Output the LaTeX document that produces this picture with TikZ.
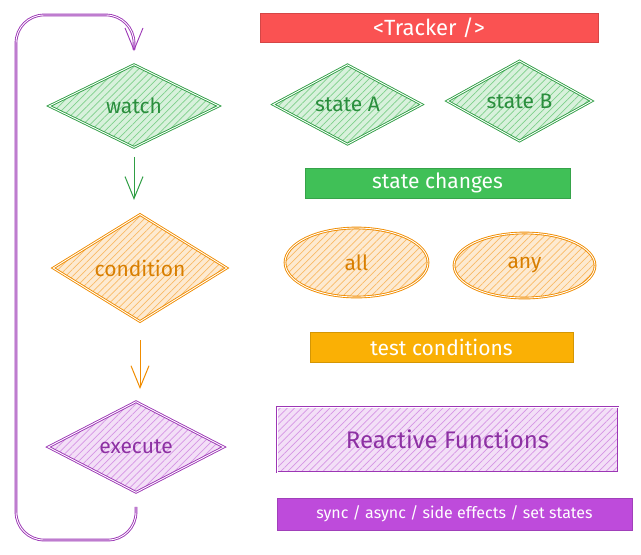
\documentclass[tikz,border=0pt]{standalone}
\usepackage{fontspec}
\setmainfont{Fira Sans}
\usetikzlibrary{shapes.geometric,arrows.meta,patterns.meta}

\definecolor{grn}{HTML}{2F9E44}
\definecolor{grnlight}{HTML}{B2F2BB}
\definecolor{grnbar}{HTML}{40C057}
\definecolor{org}{HTML}{F08C00}
\definecolor{orglight}{HTML}{FFD8A8}
\definecolor{orgbar}{HTML}{FAB005}
\definecolor{prp}{HTML}{9C36B5}
\definecolor{prplight}{HTML}{EEBEFA}
\definecolor{prpbar}{HTML}{BE4BDB}
\definecolor{redbar}{HTML}{FA5252}

\begin{document}
\begin{tikzpicture}[x=0.5pt,y=-0.5pt,
		sketch/.style={line width=0.45pt,double=white,double distance=0.45pt},
		hatch/.style={preaction={fill=#1!30},pattern={Lines[angle=45,distance=2.5pt,line width=0.35pt]},pattern color=#1},
		main node/.style={diamond,draw=#1,sketch,inner sep=0pt,text=#1!90!black,font=\fontsize{10.5}{12}\selectfont},
		state node/.style={diamond,draw=#1,sketch,inner sep=0pt,text=#1!90!black,font=\fontsize{10.5}{12}\selectfont},
		test node/.style={ellipse,draw=#1,sketch,inner sep=0pt,text=#1!90!black,font=\fontsize{10.5}{12}\selectfont},
		bar node/.style={rectangle,draw=#1!85!black,line width=0.4pt,fill=#1,text=white,inner sep=0pt,font=\fontsize{10.5}{12}\selectfont},
		flow/.style={draw=#1,line width=0.5pt,-{Straight Barb[length=11pt,width=9pt]}}]

		\useasboundingbox (0,0) rectangle (641,554);

		\node[main node=grn, hatch=grnlight!60!grn, minimum width=85pt, minimum height=41.5pt] (watch) at (134,106) {watch};
		\node[main node=org, hatch=orglight!60!org, minimum width=87pt, minimum height=43.5pt] (condition) at (140,268) {condition};
		\node[main node=prp, hatch=prplight!70!prp, minimum width=88pt, minimum height=45.5pt] (execute) at (136,447) {execute};

		\node[bar node=redbar, minimum width=169pt, minimum height=14.5pt, font=\fontsize{11}{12}\selectfont] (tracker) at (429,27.5) {<Tracker />};
		\node[state node=grn, hatch=grnlight!60!grn, minimum width=74.5pt, minimum height=37.5pt] (stateA) at (347.5,104.5) {state A};
		\node[state node=grn, hatch=grnlight!60!grn, minimum width=72.5pt, minimum height=36pt] (stateB) at (519.5,101) {state B};
		\node[bar node=grnbar, minimum width=132.5pt, minimum height=15pt] (changes) at (437.5,183) {state changes};

		\node[test node=org, hatch=orglight!60!org, minimum width=71.5pt, minimum height=34.5pt] (all) at (356.5,262.5) {all};
		\node[test node=org, hatch=orglight!60!org, minimum width=70.5pt, minimum height=32.5pt] (any) at (524.5,265.5) {any};
		\node[bar node=orgbar, minimum width=131.5pt, minimum height=15pt] (tests) at (441.5,347) {test conditions};

		\node[rectangle, draw=prp, sketch, hatch=prplight!70!prp, text=prp!90!black, minimum width=170.5pt, minimum height=32.5pt, font=\fontsize{12}{14}\selectfont] (reactive) at (447.5,439.5) {Reactive Functions};
		\node[bar node=prpbar, minimum width=177.5pt, minimum height=16pt, font=\fontsize{8}{10}\selectfont] (effects) at (454.5,514) {sync / async / side effects / set states};

		\coordinate (loopbottom) at (16,540);
		\coordinate (looptop) at (16,15);

		\draw[flow=grn, shorten <=4.5pt, shorten >=7pt] (watch.south) -- (watch.south |- condition.north);
		\draw[flow=org, shorten <=9pt, shorten >=6pt] (condition.south) -- (condition.south |- execute.north);
		\draw[flow=prp, sketch, rounded corners=14pt, shorten <=7pt, shorten >=6.5pt] (execute.south) |- (loopbottom) -- (looptop) -| (watch.north);
		\end{tikzpicture}
\end{document}
